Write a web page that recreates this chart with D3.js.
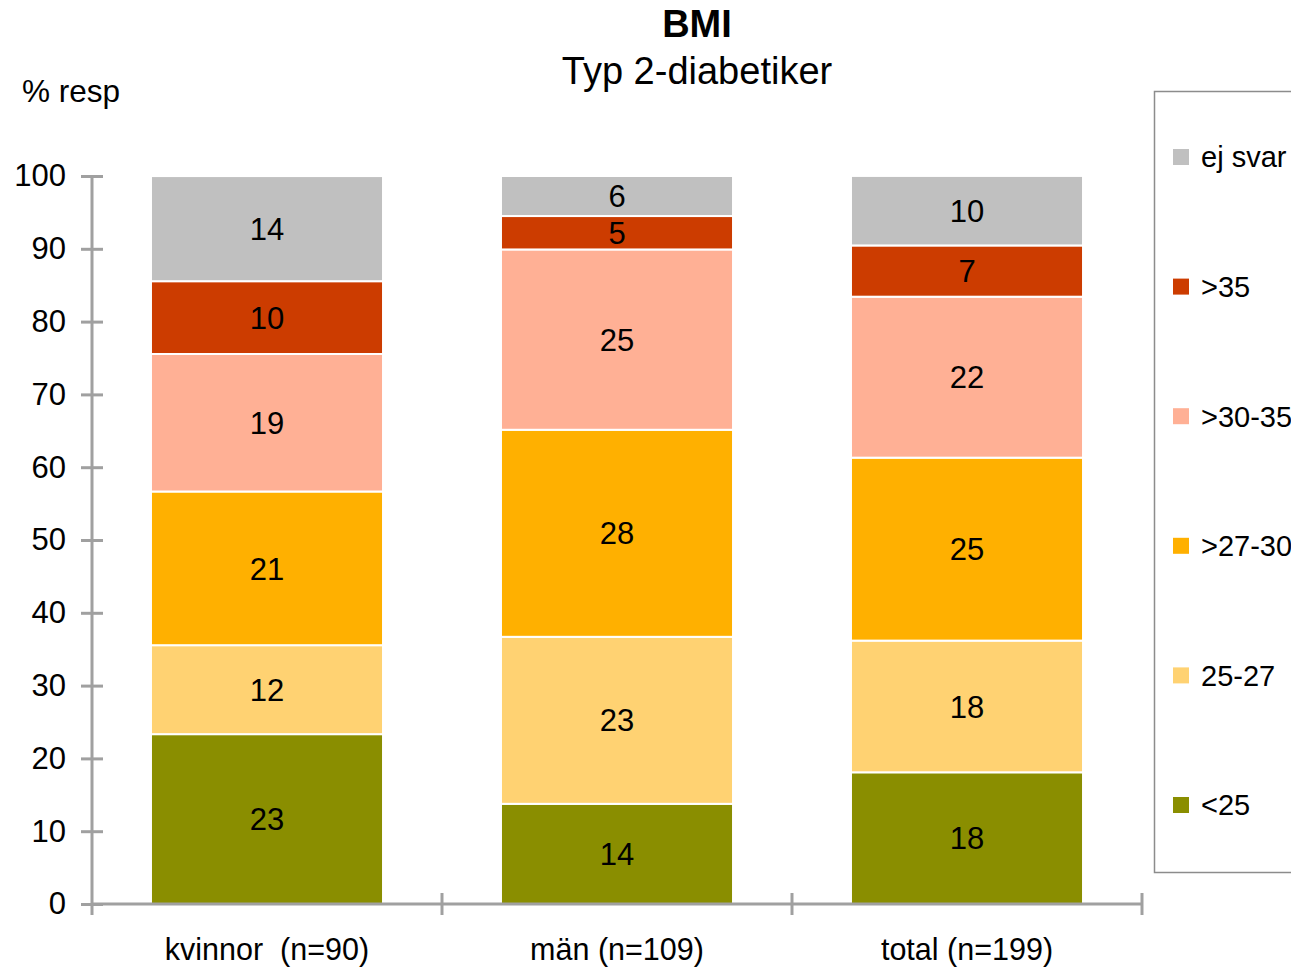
<!DOCTYPE html>
<html>
<head>
<meta charset="utf-8">
<script src="https://cdn.jsdelivr.net/npm/d3@7"></script>
<style>
  html, body { margin: 0; padding: 0; background: #fff; }
  svg { display: block; font-family: "Liberation Sans", Arial, sans-serif; }
</style>
</head>
<body>
<svg id="chart" width="1291" height="971"></svg>
<script>
// Respondent groups along the x axis
const categories = ["kvinnor  (n=90)", "män (n=109)", "total (n=199)"];

// BMI classes, stacked bottom to top
const seriesNames = ["<25", "25-27", ">27-30", ">30-35", ">35", "ej svar"];
const seriesColors = ["#8A8E00", "#FFD272", "#FFB000", "#FFB095", "#CC3C00", "#C0C0C0"];

// Share of respondents (%) per group, one array per BMI class
const under25   = [23.33, 13.76, 18.09];
const bmi25to27 = [12.22, 22.94, 18.09];
const bmi27to30 = [21.11, 28.44, 25.13];
const bmi30to35 = [18.89, 24.77, 22.11];
const over35    = [10.00, 4.59, 7.04];
const noAnswer  = [14.44, 5.50, 9.55];

const yTicks = [0, 10, 20, 30, 40, 50, 60, 70, 80, 90, 100];

const seriesValues = [under25, bmi25to27, bmi27to30, bmi30to35, over35, noAnswer];
const rows = categories.map((c, i) => {
  const r = { category: c };
  seriesNames.forEach((s, k) => { r[s] = seriesValues[k][i]; });
  return r;
});

const svg = d3.select("#chart");
const axisColor = "#A0A0A0";

const x = d3.scaleBand().domain(categories).range([92, 1142]).padding(0);
const y = d3.scaleLinear().domain([0, 100]).range([904, 176]);
const barWidth = x.bandwidth() * 0.663;

const stack = d3.stack().keys(seriesNames)(rows);

// Stacked bars
const layers = svg.append("g").selectAll("g")
  .data(stack).join("g")
  .attr("fill", (d, i) => seriesColors[i]);

layers.selectAll("rect")
  .data(d => d)
  .join("rect")
  .attr("x", d => x(d.data.category) + (x.bandwidth() - barWidth) / 2)
  .attr("y", d => y(d[1]))
  .attr("width", barWidth)
  .attr("height", d => y(d[0]) - y(d[1]))
  .attr("stroke", "#fff")
  .attr("stroke-width", 2);

// Value labels centred in each segment
layers.selectAll("text")
  .data(d => d)
  .join("text")
  .attr("x", d => x(d.data.category) + x.bandwidth() / 2)
  .attr("y", d => (y(d[0]) + y(d[1])) / 2)
  .attr("dy", "0.36em")
  .attr("text-anchor", "middle")
  .attr("font-size", 31)
  .attr("fill", "#000")
  .text(d => Math.round(d[1] - d[0]));

// Y axis
const yAxis = svg.append("g")
  .attr("transform", "translate(92,0)")
  .call(d3.axisLeft(y).tickValues(yTicks).tickSize(0).tickPadding(26));
yAxis.select(".domain").remove();
yAxis.selectAll("text").attr("font-size", 31).attr("fill", "#000")
  .attr("font-family", "Liberation Sans, Arial, sans-serif");
yAxis.selectAll(".tick").append("line")
  .attr("x1", -11).attr("x2", 11)
  .attr("stroke", axisColor).attr("stroke-width", 3);
svg.append("line")
  .attr("x1", 92).attr("x2", 92)
  .attr("y1", y(100)).attr("y2", 915)
  .attr("stroke", axisColor).attr("stroke-width", 3);

// X axis with separators between groups
svg.append("line")
  .attr("x1", 92).attr("x2", 1142)
  .attr("y1", y(0)).attr("y2", y(0))
  .attr("stroke", axisColor).attr("stroke-width", 3);
const separators = categories.slice(1).map(c => x(c)).concat([x.range()[1]]);
svg.append("g").selectAll("line")
  .data(separators).join("line")
  .attr("x1", d => d).attr("x2", d => d)
  .attr("y1", y(0) - 11).attr("y2", 915)
  .attr("stroke", axisColor).attr("stroke-width", 3);

svg.append("g").selectAll("text")
  .data(categories).join("text")
  .attr("x", d => x(d) + x.bandwidth() / 2)
  .attr("y", 960)
  .attr("text-anchor", "middle")
  .attr("font-size", 30.5)
  .attr("fill", "#000")
  .style("white-space", "pre")
  .text(d => d);

// Titles
svg.append("text").attr("x", 697).attr("y", 37)
  .attr("text-anchor", "middle").attr("font-size", 38).attr("font-weight", "bold")
  .text("BMI");
svg.append("text").attr("x", 697).attr("y", 84)
  .attr("text-anchor", "middle").attr("font-size", 38)
  .text("Typ 2-diabetiker");
svg.append("text").attr("x", 22).attr("y", 102)
  .attr("font-size", 31.5)
  .text("% resp");

// Legend
svg.append("rect")
  .attr("x", 1154.5).attr("y", 91.5)
  .attr("width", 200).attr("height", 781)
  .attr("fill", "#fff").attr("stroke", "#8C8C8C").attr("stroke-width", 1.5);

const legendY = d3.scalePoint()
  .domain(seriesNames.slice().reverse())
  .range([157, 805]);

const legend = svg.append("g").selectAll("g")
  .data(seriesNames).join("g")
  .attr("transform", d => `translate(1173,${legendY(d)})`);
legend.append("rect")
  .attr("x", 0).attr("y", -8).attr("width", 16).attr("height", 16)
  .attr("fill", (d, i) => seriesColors[i]);
legend.append("text")
  .attr("x", 28).attr("dy", "0.36em")
  .attr("font-size", 29).attr("fill", "#000")
  .text(d => d);
</script>
</body>
</html>
